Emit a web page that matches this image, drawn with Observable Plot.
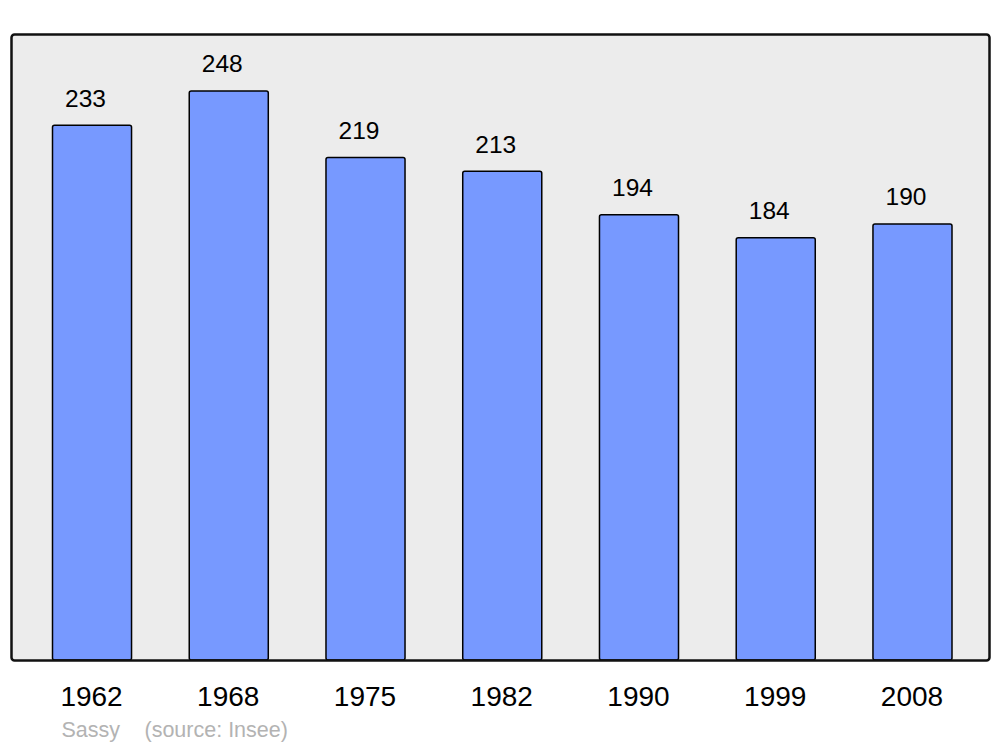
<!DOCTYPE html>
<html>
<head>
<meta charset="utf-8">
<script src="https://cdn.jsdelivr.net/npm/d3@7"></script>
<script src="https://cdn.jsdelivr.net/npm/@observablehq/plot@0.6"></script>
<style>
  html, body { margin: 0; padding: 0; background: #fff; }
  svg { display: block; }
</style>
</head>
<body>
<div id="chart"></div>
<script>
const years = ["1962", "1968", "1975", "1982", "1990", "1999", "2008"];
const population = [233, 248, 219, 213, 194, 184, 190];
const captionName = "Sassy";
const captionSource = "(source: Insee)";

const data = years.map((y, i) => ({year: y, value: population[i]}));
const font = "'Liberation Sans', Arial, sans-serif";

const chart = Plot.plot({
  width: 1000,
  height: 747,
  marginTop: 34,
  marginBottom: 87,
  marginLeft: 11,
  marginRight: 11,
  style: {fontFamily: font, background: "#fff"},
  x: {domain: years, range: [52.5, 952], paddingInner: 0.422, paddingOuter: 0, round: false, label: null},
  y: {domain: [0, 272.8], axis: null},
  marks: [
    Plot.frame({fill: "#ececec", stroke: "none", rx: 3}),
    Plot.barY(data, {x: "year", y: "value", fill: "#7799ff", stroke: "#000", strokeWidth: 1.5, rx: 2}),
    Plot.frame({stroke: "#111", strokeWidth: 2.5, rx: 3}),
    Plot.text(data, {x: "year", y: "value", text: d => String(d.value), dx: -7, dy: -27, fontSize: 24.5, fill: "#000"}),
    Plot.axisX({tickSize: 0, tickPadding: 26, fontSize: 28, color: "#000", label: null, dx: -1}),
    Plot.text([captionName], {frameAnchor: "bottom-left", dx: 50, dy: 76, textAnchor: "start", fontSize: 21.5, fill: "#b3b3b3"}),
    Plot.text([captionSource], {frameAnchor: "bottom-left", dx: 133, dy: 76, textAnchor: "start", fontSize: 21.5, fill: "#b3b3b3"})
  ]
});
document.getElementById("chart").appendChild(chart);
</script>
</body>
</html>
